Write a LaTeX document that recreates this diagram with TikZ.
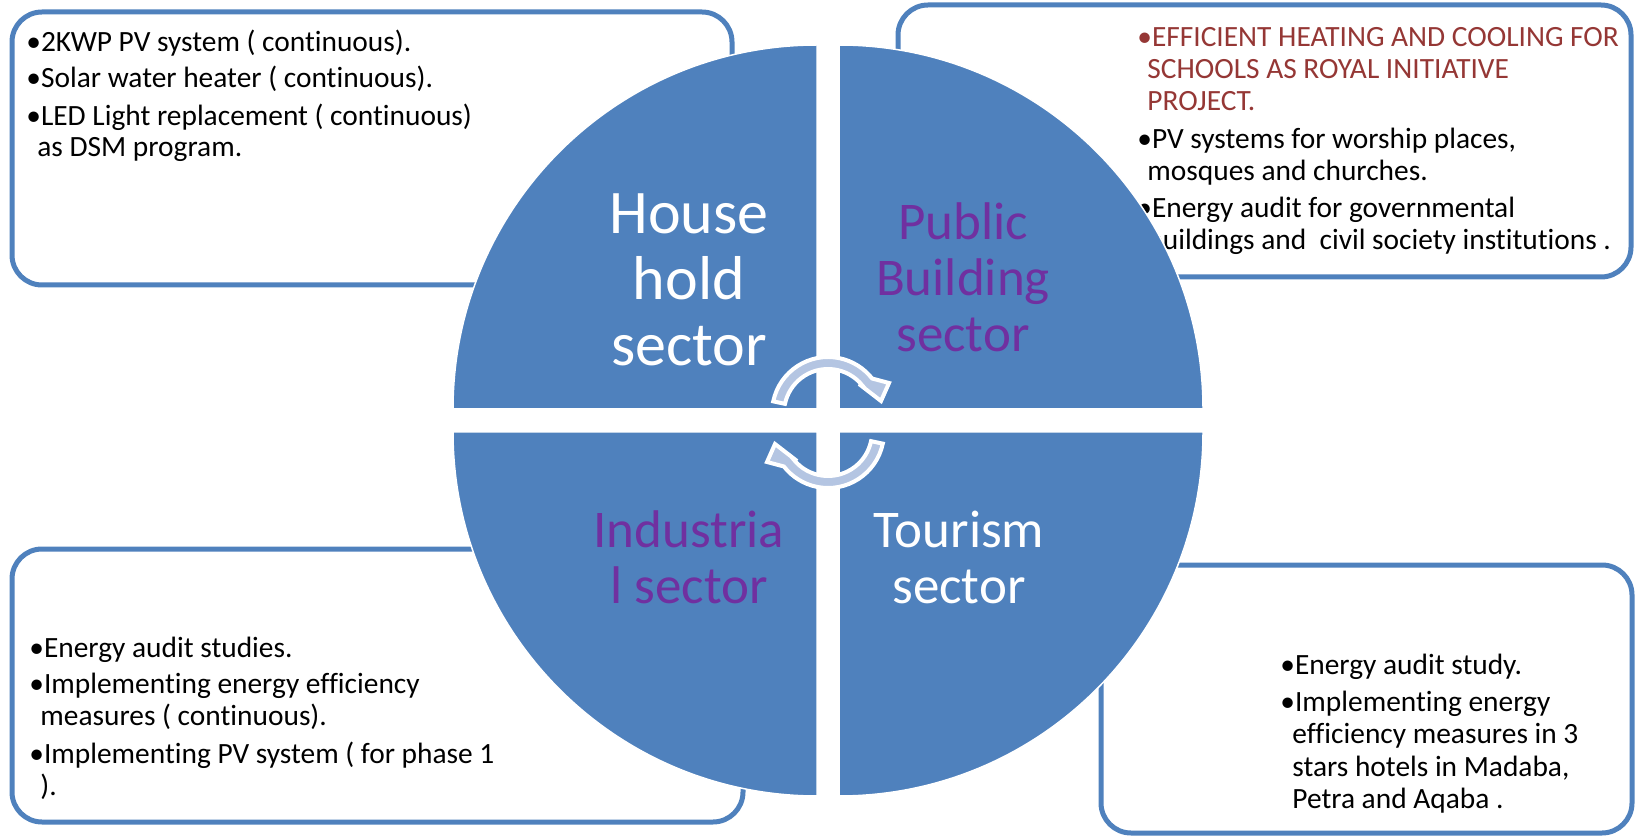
\documentclass[tikz,border=0pt]{standalone}
\usepackage{fontspec}
\setmainfont{Carlito}[Ligatures=NoCommon]
\definecolor{quadblue}{HTML}{4F81BD}
\definecolor{arrowfill}{HTML}{B4C5E2}
\definecolor{sectorpurple}{HTML}{7030A0}
\definecolor{royalred}{HTML}{953735}
\tikzset{
  infobox/.style={draw=quadblue, line width=2.5pt, rounded corners=15pt, fill=white},
  quadrant/.style={fill=quadblue, draw=white, line width=0.75pt},
  cyclearrow/.style={fill=arrowfill, draw=white, line width=2pt, line join=miter},
  infotext/.style={anchor=base west, align=left, inner sep=0pt, font=\fontsize{14.7}{16}\selectfont},
  sectortext/.style={anchor=base, align=center, inner sep=0pt},
}
\begin{document}
\begin{tikzpicture}[x=0.5pt,y=0.5pt]
\useasboundingbox (0,0) rectangle (1637,836);
% Kaesten mit den Massnahmen
\draw[infobox] (12,551) rectangle (732,824);
\draw[infobox] (898,559) rectangle (1631,831);
\draw[infobox] (12,14) rectangle (743,287);
\draw[infobox] (1101,3) rectangle (1632,271);
% (base = letzte Zeile)
\node[infotext] (house list) at (26,679) {%
•2KWP PV system ( continuous).\\[2pt]
•Solar water heater ( continuous).\\[3pt]
•LED Light replacement ( continuous)\\[-0.5pt]
\hspace*{5.5pt}as DSM program.};
\node[infotext] (public list) at (1137,586) {%
\textcolor{royalred}{•EFFICIENT HEATING AND COOLING FOR}\\
\textcolor{royalred}{\hspace*{5pt}SCHOOLS AS ROYAL INITIATIVE}\\
\textcolor{royalred}{\hspace*{5pt}PROJECT.}\\[3pt]
•PV systems for worship places,\\
\hspace*{5pt}mosques and churches.\\[2.5pt]
•Energy audit for governmental\\
\hspace*{5pt}buildings and~ civil society institutions .};
\node[infotext] (industry list) at (29,41) {%
•Energy audit studies.\\[2pt]
•Implementing energy efficiency\\
\hspace*{5.5pt}measures ( continuous).\\[3pt]
•Implementing PV system ( for phase 1\\
\hspace*{5.5pt}).};
\node[infotext] (tourism list) at (1280,28) {%
•Energy audit study.\\[2.5pt]
•Implementing energy\\
\hspace*{6pt}efficiency measures in 3\\[0.5pt]
\hspace*{6pt}stars hotels in Madaba,\\
\hspace*{6pt}Petra and Aqaba .};
% Kreis aus vier Vierteln
\path[quadrant] (817,427) -- (453,427) arc[start angle=180, end angle=90, radius=364] -- cycle;
\path[quadrant] (839,427) -- (839,791) arc[start angle=90, end angle=0, radius=364] -- cycle;
\path[quadrant] (817,404) -- (817,40) arc[start angle=270, end angle=180, radius=364] -- cycle;
\path[quadrant] (839,404) -- (1203,404) arc[start angle=0, end angle=-90, radius=364] -- cycle;
% Pfeile in der Mitte
\begin{scope}[shift={(828,423)}]
\path[cyclearrow] (168:56) arc[start angle=168, end angle=38, radius=56]
  -- (61,30) -- (53,12) -- (31,29) -- (38:44) arc[start angle=38, end angle=168, radius=44] -- cycle;
\end{scope}
\begin{scope}[shift={(828,404)}, rotate=180]
\path[cyclearrow] (168:56) arc[start angle=168, end angle=38, radius=56]
  -- (61,30) -- (53,12) -- (31,29) -- (38:44) arc[start angle=38, end angle=168, radius=44] -- cycle;
\end{scope}
\node[sectortext, text=white, font=\fontsize{31}{33}\selectfont] (household) at (689,470) {House\\hold\\sector};
\node[sectortext, text=sectorpurple, font=\fontsize{26.5}{28}\selectfont] (public) at (963,484) {Public\\Building\\sector};
\node[sectortext, text=sectorpurple, font=\fontsize{26.5}{28}\selectfont] (industrial) at (689,233) {Industria\\l sector};
\node[sectortext, text=white, font=\fontsize{26.5}{28}\selectfont] (tourism) at (959,233) {Tourism\\sector};
\end{tikzpicture}
\end{document}
